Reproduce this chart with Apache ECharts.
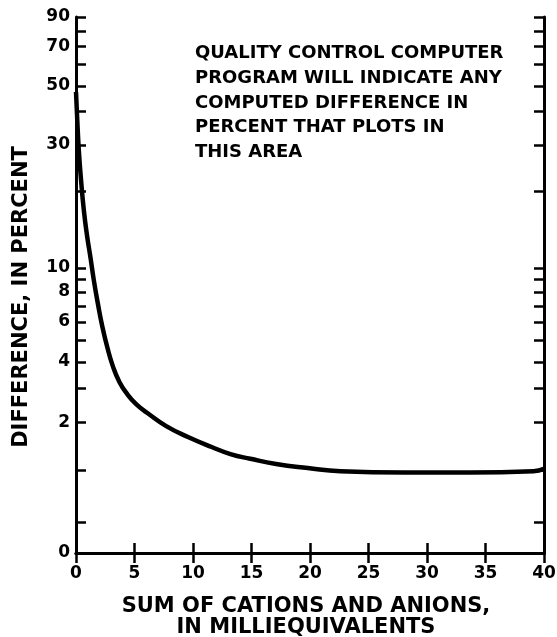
<!DOCTYPE html>
<html>
<head>
<meta charset="utf-8">
<script src="https://cdn.jsdelivr.net/npm/echarts@6/dist/echarts.min.js"></script>
<style>
    html, body { margin: 0; background: #fff; }
    #chart { width: 557px; height: 637px; }
</style>
</head>
<body>
<div id="chart"></div>
<script>
// values
var sumMeq = [0, 0.1, 0.24, 0.43, 0.67, 0.95, 1.24, 1.52, 1.86, 2.24, 2.67, 3.14, 3.71, 4.38, 5.14, 6.1, 7.71, 9.62, 11.6, 13.2, 14.9, 17.1, 19.8, 22.6, 28.1, 33.6, 39.1, 40];
var diffPct = [47.4, 37.9, 28.7, 22.1, 16.9, 13.4, 11.0, 8.95, 7.2, 5.76, 4.66, 3.83, 3.22, 2.81, 2.5, 2.25, 1.91, 1.65, 1.44, 1.3, 1.21, 1.115, 1.045, 0.99, 0.97, 0.97, 0.99, 1.03];
var yTickValues = [0, 0.3, 1, 2, 3, 4, 5, 6, 7, 8, 9, 10, 20, 30, 40, 50, 60, 70, 80, 90];
var yLabelValues = [0, 2, 4, 6, 8, 10, 30, 50, 70, 90];
var noteLines = [
    'QUALITY CONTROL COMPUTER',
    'PROGRAM WILL INDICATE ANY',
    'COMPUTED DIFFERENCE IN',
    'PERCENT THAT PLOTS IN',
    'THIS AREA'
];

/**
 * 纵轴刻度: log10(v + 1)
 */
function toAxis(v) {
    return Math.log10(v + 1);
}

var font = '"DejaVu Sans", sans-serif';
var lineStyle = {color: '#000', width: 3};
var tickStyle = {color: '#000', width: 2.5};
var labelStyle = {color: '#000', fontFamily: font, fontWeight: 'bold', fontSize: 17};

var curve = sumMeq.map(function (x, i) {
    return [x, toAxis(diffPct[i])];
});

function xAxisOf(position, withLabels) {
    return {
        type: 'value',
        position: position,
        min: 0,
        max: 40,
        interval: 5,
        axisLine: {show: true, lineStyle: lineStyle},
        axisTick: {show: true, inside: true, length: 10, lineStyle: tickStyle},
        axisLabel: Object.assign({show: withLabels, margin: 12}, labelStyle),
        splitLine: {show: false}
    };
}

function yAxisOf(position, withLabels) {
    return {
        type: 'value',
        position: position,
        min: 0,
        max: toAxis(90),
        axisLine: {show: true, onZero: false, lineStyle: lineStyle},
        axisTick: {
            show: true, inside: true, length: 10, lineStyle: tickStyle,
            customValues: yTickValues.map(toAxis)
        },
        axisLabel: Object.assign({
            show: withLabels,
            margin: 6,
            customValues: yLabelValues.map(toAxis),
            formatter: function (v) {
                return String(Math.round(Math.pow(10, v) - 1));
            }
        }, labelStyle),
        splitLine: {show: false}
    };
}

var myChart = echarts.init(document.getElementById('chart'));
var option = {
    animation: false,
    backgroundColor: '#fff',
    grid: {left: 76, right: 13, top: 17, bottom: 84, outerBoundsMode: 'none'},
    xAxis: [
        Object.assign(xAxisOf('bottom', true), {
            name: 'SUM OF CATIONS AND ANIONS,\nIN MILLIEQUIVALENTS',
            nameLocation: 'middle',
            nameGap: 43,
            nameTextStyle: {color: '#000', fontFamily: font, fontWeight: 'bold', fontSize: 21, lineHeight: 21, padding: [0, 8, 0, 0]}
        }),
        xAxisOf('top', false)
    ],
    yAxis: [
        Object.assign(yAxisOf('left', true), {
            name: 'DIFFERENCE, IN PERCENT',
            nameLocation: 'middle',
            nameGap: 44,
            nameTextStyle: {color: '#000', fontFamily: font, fontWeight: 'bold', fontSize: 21, padding: [0, 24, 0, 0]}
        }),
        yAxisOf('right', false)
    ],
    graphic: [{
        type: 'text',
        left: 195,
        top: 41,
        style: {
            text: noteLines.join('\n'),
            fill: '#000',
            fontFamily: font,
            fontWeight: 'bold',
            fontSize: 18,
            lineHeight: 24.75
        }
    }],
    series: [{
        type: 'line',
        data: curve,
        showSymbol: false,
        smooth: 0.5,
        lineStyle: {color: '#000', width: 4.5}
    }]
};
myChart.setOption(option);
</script>
</body>
</html>
